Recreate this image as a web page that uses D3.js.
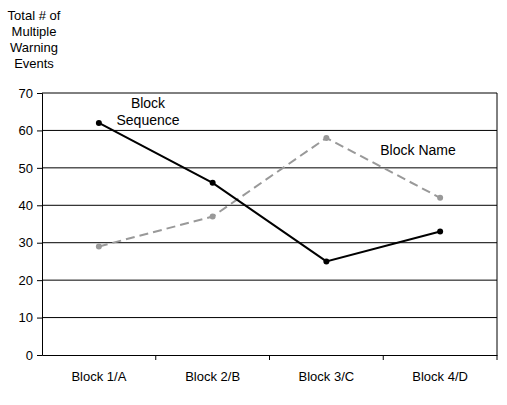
<!DOCTYPE html>
<html><head><meta charset="utf-8">
<script src="https://cdn.jsdelivr.net/npm/d3@7"></script>
<style>body{margin:0;background:#fff}text{font-family:Arial,"Liberation Sans",sans-serif}</style>
</head><body><svg></svg>
<script>
const w = 507, h = 405
const categories = ["Block 1/A", "Block 2/B", "Block 3/C", "Block 4/D"]
const blockSequence = [62, 46, 25, 33]
const blockName = [29, 37, 58, 42]
const yTicks = [0, 10, 20, 30, 40, 50, 60, 70]

const svg = d3.select("svg").attr("width", w).attr("height", h)
const x = d3.scaleBand().domain(categories).range([42, 497])
const y = d3.scaleLinear().domain([0, 70]).range([355, 93])

//gridlines
svg.selectAll(".grid").data(yTicks.slice(1)).enter().append("line")
    .attr("x1", 42).attr("x2", 497)
    .attr("y1", d => y(d)).attr("y2", d => y(d))
    .attr("stroke", "#000").attr("stroke-width", 1)
svg.append("line").attr("x1", 497).attr("x2", 497).attr("y1", y(70)).attr("y2", y(0)).attr("stroke", "#000")

const yAxis = svg.append("g").attr("transform", "translate(42,0)")
    .call(d3.axisLeft(y).tickValues(yTicks).tickSize(5).tickPadding(4))
yAxis.selectAll("text").attr("font-size", 13).attr("fill", "#000")
const xAxis = svg.append("g").attr("transform", "translate(0,355)")
    .call(d3.axisBottom(x).tickSize(0).tickPadding(17))
xAxis.selectAll("text").attr("font-size", 13).attr("fill", "#000")
// ticks between bands
svg.selectAll(".xt").data(categories).enter().append("line")
    .attr("x1", d => x(d) + x.bandwidth()).attr("x2", d => x(d) + x.bandwidth())
    .attr("y1", 355).attr("y2", 360).attr("stroke", "#000")

const line = d3.line().x((d, i) => x(categories[i]) + x.bandwidth() / 2).y(d => y(d))
const series = [
    {vals: blockName, color: "#999", dash: "9,5"},
    {vals: blockSequence, color: "#000", dash: null}
]
series.forEach(s => {
    svg.append("path").attr("d", line(s.vals)).attr("fill", "none")
        .attr("stroke", s.color).attr("stroke-width", 2).attr("stroke-dasharray", s.dash)
    svg.selectAll(null).data(s.vals).enter().append("circle")
        .attr("cx", (d, i) => x(categories[i]) + x.bandwidth() / 2).attr("cy", d => y(d))
        .attr("r", 3).attr("fill", s.color)
})

const lbl = (t, xx, yy) => svg.append("text").attr("x", xx).attr("y", yy).attr("font-size", 14).attr("text-anchor", "middle").text(t)
lbl("Block", 148, 108); lbl("Sequence", 148, 125)
lbl("Block Name", 418, 155)

const title = ["Total # of", "Multiple", "Warning", "Events"]
title.forEach((t, i) => svg.append("text").attr("x", 34).attr("y", 20 + i * 16)
    .attr("font-size", 13).attr("text-anchor", "middle").text(t))
</script></body></html>
